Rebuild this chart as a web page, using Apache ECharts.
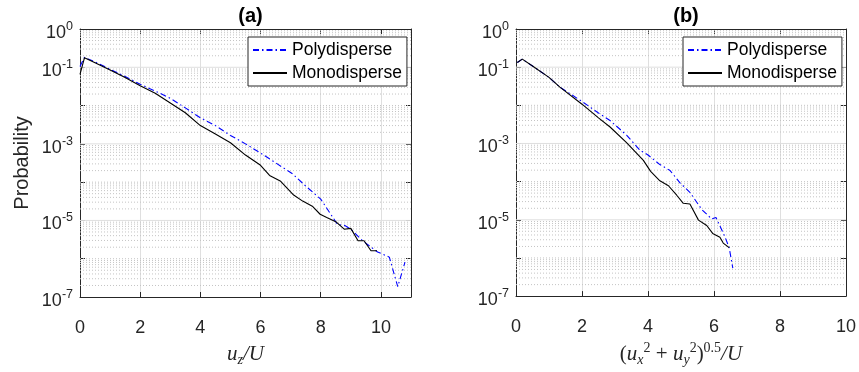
<!DOCTYPE html>
<html>
<head>
<meta charset="utf-8">
<script src="https://cdn.jsdelivr.net/npm/echarts@6/dist/echarts.min.js"></script>
<style>
  html, body { margin: 0; padding: 0; background: #fff; }
  #chart { width: 859px; height: 372px; }
</style>
</head>
<body>
<div id="chart"></div>
<script>
// panel (a): u_z / U
const aPolyX = [0, 0.15, 0.5, 1, 1.5, 2, 2.5, 3, 3.5, 4, 4.5, 5, 5.5, 6, 6.5, 7.06, 7.5, 8.0, 8.56, 8.8, 9.0, 9.39, 9.89, 10.28, 10.56, 10.8];
const aPolyY = [0.105, 0.182, 0.138, 0.089, 0.0575, 0.036, 0.024, 0.0155, 0.0087, 0.0048, 0.003, 0.00166, 0.001, 5.75e-4, 3.2e-4, 1.66e-4, 7.9e-5, 3.6e-5, 7.8e-6, 7.4e-6, 5.9e-6, 2.95e-6, 1.5e-6, 1.1e-6, 1.86e-7, 8.1e-7];
const aMonoX = [0, 0.15, 0.5, 1, 1.5, 2, 2.5, 3, 3.5, 4, 4.5, 5, 5.5, 6, 6.3, 6.67, 7.1, 7.4, 7.72, 7.98, 8.2, 8.5, 8.78, 9.0, 9.24, 9.44, 9.67, 9.87];
const aMonoY = [0.065, 0.178, 0.132, 0.085, 0.054, 0.033, 0.021, 0.0117, 0.0065, 0.003, 0.0018, 0.00107, 5.1e-4, 2.75e-4, 1.5e-4, 1.05e-4, 4.6e-5, 3.2e-5, 2.35e-5, 1.45e-5, 1.2e-5, 9.3e-6, 5.9e-6, 6.2e-6, 2.95e-6, 2.95e-6, 1.62e-6, 1.62e-6];

// panel (b): (ux^2 + uy^2)^0.5 / U
const bPolyX = [0.04, 0.19, 0.5, 1.0, 1.33, 2.0, 2.5, 2.85, 3.35, 3.76, 4.0, 4.36, 4.67, 4.97, 5.27, 5.63, 5.93, 6.06, 6.33, 6.46, 6.57];
const bPolyY = [0.133, 0.162, 0.107, 0.054, 0.030, 0.0126, 0.0063, 0.004, 0.00166, 6.6e-4, 5.0e-4, 2.8e-4, 1.95e-4, 9.3e-5, 5.25e-5, 1.86e-5, 1.05e-5, 1.15e-5, 3.6e-6, 1.86e-6, 5.4e-7];
const bMonoX = [0.04, 0.19, 0.5, 1.0, 1.33, 2.0, 2.5, 2.85, 3.35, 3.86, 4.08, 4.36, 4.62, 4.87, 5.07, 5.27, 5.53, 5.78, 5.96, 6.18, 6.28, 6.46];
const bMonoY = [0.133, 0.162, 0.107, 0.054, 0.030, 0.0107, 0.0047, 0.0027, 0.00105, 3.6e-4, 1.86e-4, 1.05e-4, 7.8e-5, 4.4e-5, 2.7e-5, 2.6e-5, 9.8e-6, 7.1e-6, 4.4e-6, 3.5e-6, 2.45e-6, 1.86e-6];

const seriesNames = ['Polydisperse', 'Monodisperse'];
const panelTitles = ['(a)', '(b)'];
const xMax = [11, 10];
const xTickLabels = [0, 2, 4, 6, 8, 10];
const yTickExps = [0, -1, -3, -5, -7]; // labelled decades
const yLabel = 'Probability';

const AXIS_COLOR = '#262626';
const FONT = '"Liberation Sans", Arial, Helvetica, sans-serif';
const SERIF = '"Liberation Serif", "Times New Roman", serif';

// panel boxes in px (left, width)
const panels = [
  { left: 80, width: 331 },
  { left: 516, width: 330 },
];
const plotTop = 29;
const plotHeight = 278;

const pairs = (xs, ys) => xs.map((x, i) => [x, ys[i]]);

// MATLAB-like log grid: solid lines at labelled decades, dotted at the rest
const minorGrid = [];
for (let e = -7; e < 0; e++) {
  for (let m = 1; m <= 9; m++) {
    if (m === 1 && (e === -7 || yTickExps.includes(e))) continue;
    minorGrid.push(m * Math.pow(10, e));
  }
}
const majorGrid = yTickExps.filter(e => e !== 0 && e !== -7).map(e => Math.pow(10, e));

const yLabelFormatter = v => {
  const e = Math.round(Math.log10(v));
  return yTickExps.includes(e) ? '{b|10}{s|' + e + '}' : '';
};

const xNames = [
  '{i|u}{sub|z}{i|/U}',
  '{n|(}{i|u}{sub|x}{sup|2}{n| + }{i|u}{sub|y}{sup|2}{n|)}{sup|0.5}{i|/U}',
];
const nameRich = {
  i: { fontFamily: SERIF, fontStyle: 'italic', fontSize: 21, lineHeight: 26, color: AXIS_COLOR },
  n: { fontFamily: SERIF, fontSize: 21, lineHeight: 26, color: AXIS_COLOR },
  sub: { fontFamily: SERIF, fontStyle: 'italic', fontSize: 14, verticalAlign: 'bottom', color: AXIS_COLOR },
  sup: { fontFamily: SERIF, fontSize: 14, verticalAlign: 'top', color: AXIS_COLOR },
};

const grid = panels.map(p => ({
  left: p.left, top: plotTop, width: p.width, height: plotHeight,
  show: true, backgroundColor: '#fff', borderWidth: 0,
}));

const xAxis = [];
const yAxis = [];
panels.forEach((p, g) => {
  const line = { show: true, onZero: false, lineStyle: { color: AXIS_COLOR, width: 1 } };
  const tick = { show: true, inside: true, length: 5, lineStyle: { color: AXIS_COLOR } };
  xAxis.push({
    type: 'value', gridIndex: g, min: 0, max: xMax[g], interval: 2,
    axisLine: line, axisTick: tick,
    axisLabel: {
      color: AXIS_COLOR, fontSize: 18, fontFamily: FONT, margin: 22,
      formatter: v => (xTickLabels.includes(v) ? String(v) : ''),
    },
    splitLine: { show: true, lineStyle: { color: '#dfdfdf', width: 1 } },
    name: xNames[g], nameLocation: 'middle', nameGap: 44,
    nameTextStyle: { rich: nameRich },
  });
  xAxis.push({
    type: 'value', gridIndex: g, position: 'top', min: 0, max: xMax[g], interval: 2,
    axisLine: line, axisTick: tick, axisLabel: { show: false }, splitLine: { show: false },
  });
  yAxis.push({
    type: 'log', logBase: 10, gridIndex: g, min: 1e-7, max: 1,
    axisLine: line, axisTick: tick,
    axisLabel: {
      color: AXIS_COLOR, fontFamily: FONT, margin: 7, padding: [8, 0, 0, 0],
      formatter: yLabelFormatter,
      rich: {
        b: { fontSize: 18, fontFamily: FONT, color: AXIS_COLOR, lineHeight: 26 },
        s: { fontSize: 12.5, fontFamily: FONT, color: AXIS_COLOR, verticalAlign: 'top' },
      },
    },
    splitLine: { show: false },
    name: g === 0 ? yLabel : '', nameLocation: 'middle', nameGap: 48,
    nameTextStyle: { fontSize: 20, fontFamily: FONT, color: AXIS_COLOR },
  });
  yAxis.push({
    type: 'log', logBase: 10, gridIndex: g, position: 'right', min: 1e-7, max: 1,
    axisLine: line, axisTick: tick, axisLabel: { show: false }, splitLine: { show: false },
  });
});

const series = [];
const data = [
  [pairs(aPolyX, aPolyY), pairs(aMonoX, aMonoY)],
  [pairs(bPolyX, bPolyY), pairs(bMonoX, bMonoY)],
];
const gridLine = (g, v, style) => ({
  type: 'line', xAxisIndex: g * 2, yAxisIndex: g * 2,
  data: [[0, v], [xMax[g], v]], symbol: 'none', silent: true, z: 1,
  lineStyle: style,
});
panels.forEach((p, g) => {
  // grid lines as flat series so that only labelled decades are solid
  minorGrid.forEach(v => series.push(gridLine(g, v, { type: [1, 2], color: '#c4c4c4', width: 1 })));
  majorGrid.forEach(v => series.push(gridLine(g, v, { type: 'solid', color: '#dfdfdf', width: 1 })));
  series.push({
    type: 'line', name: seriesNames[0], xAxisIndex: g * 2, yAxisIndex: g * 2,
    data: data[g][0], showSymbol: false, symbol: 'none', z: 3,
    lineStyle: { color: '#0000ff', width: 1.1, type: [6, 3, 1.5, 3] },
    itemStyle: { color: '#0000ff' },
  });
  series.push({
    type: 'line', name: seriesNames[1], xAxisIndex: g * 2, yAxisIndex: g * 2,
    data: data[g][1], showSymbol: false, symbol: 'none', z: 3,
    lineStyle: { color: '#000000', width: 1.1 },
    itemStyle: { color: '#000000' },
  });
});

const legend = [248, 683].map(left => ({
  data: seriesNames, orient: 'vertical', left: left, top: 37, z: 10,
  backgroundColor: '#fff', borderColor: AXIS_COLOR, borderWidth: 1,
  padding: [4, 5, 4, 4], itemGap: 5, itemWidth: 34, itemHeight: 18, itemTextGap: 2,
  selectedMode: false,
  itemStyle: { opacity: 0, borderWidth: 0 },
  textStyle: { fontSize: 17.5, fontFamily: FONT, color: '#000', lineHeight: 18 },
}));

const title = panelTitles.map((t, g) => ({
  text: t, left: panels[g].left + panels[g].width / 2, top: 1, textAlign: 'center',
  textStyle: { fontSize: 20, fontWeight: 'bold', fontFamily: FONT, color: '#000' },
}));

const chart = echarts.init(document.getElementById('chart'), null, { renderer: 'canvas' });
chart.setOption({
  animation: false,
  backgroundColor: '#fff',
  title, legend, grid, xAxis, yAxis, series,
});
</script>
</body>
</html>
